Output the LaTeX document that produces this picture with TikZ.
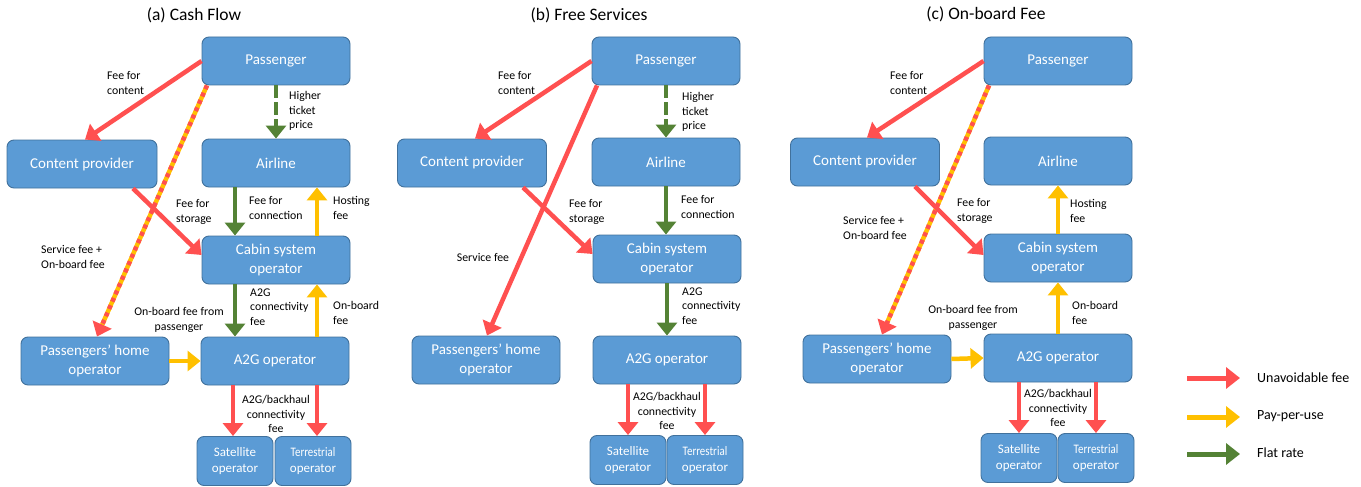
\documentclass[tikz,border=0pt]{standalone}
\usepackage{fontspec}
\usepackage{graphicx}
\setmainfont{Carlito}
\usetikzlibrary{arrows.meta}

\definecolor{boxfill}{HTML}{5B9BD5}
\definecolor{boxline}{HTML}{41719C}
\definecolor{feered}{HTML}{FF5050}
\definecolor{feeyellow}{HTML}{FFC000}
\definecolor{feegreen}{HTML}{548235}

\tikzset{
  party/.style={draw=boxline, line width=0.9pt, fill=boxfill, rounded corners=7pt,
    text=white, minimum width=148pt, minimum height=48pt, inner sep=0pt,
    align=center, font=\fontsize{15}{18.3}\selectfont},
  smallparty/.style={party, minimum width=76pt, minimum height=49pt,
    font=\fontsize{13}{16.5}\selectfont},
  lbl/.style={inner sep=0pt, align=left, font=\fontsize{11.8}{14.5}\selectfont},
  paneltitle/.style={inner sep=0pt, font=\fontsize{17.5}{20}\selectfont},
  legendtext/.style={inner sep=0pt, anchor=west, font=\fontsize{14}{16}\selectfont},
  flow/.style={line width=4.5pt, -{Triangle[length=13pt,width=20pt]}},
  unavoidable/.style={flow, draw=feered},
  payuse/.style={flow, draw=feeyellow},
  flat/.style={flow, draw=feegreen},
  flatdashed/.style={flat, dash pattern=on 13pt off 4pt},
  mixedbase/.style={line width=4.5pt, draw=feeyellow, shorten >=12pt},
  mixedtop/.style={unavoidable, dash pattern=on 4pt off 4pt},
  legendflow/.style={line width=5pt, -{Triangle[length=14pt,width=21pt]}},
}

\begin{document}
\begin{tikzpicture}[x=1pt, y=-1pt]
\useasboundingbox (0,0) rectangle (1361,487);

% ---------------- (a) Cash Flow ----------------
\node[paneltitle] (titleA) at (194,15) {(a) Cash Flow};
\node[party] (pasA) at (276,61) {Passenger};
\node[party] (airA) at (276,163) {Airline};
\node[party, minimum width=150pt] (cpA) at (82,164) {Content provider};
\node[party] (cabA) at (276,260) {Cabin system\\operator};
\node[party] (a2gA) at (275,361) {A2G operator};
\node[party] (homeA) at (95,361) {Passengers’ home\\operator};
\node[smallparty] (satA) at (235,461) {Satellite\\operator};
\node[smallparty] (terA) at (313,461) {\scalebox{0.84}[1]{Terrestrial}\\operator};

\draw[unavoidable] (pasA.west) -- ([xshift=3pt]cpA.north);
\draw[mixedbase] ([xshift=-69pt]pasA.south) -- ([xshift=2pt]homeA.north);
\draw[mixedtop] ([xshift=-69pt]pasA.south) -- ([xshift=2pt]homeA.north);
\draw[flatdashed] (pasA.south) -- (airA.north);
\draw[flat] ([xshift=-41pt]airA.south) -- ([xshift=-41pt]cabA.north);
\draw[payuse] ([xshift=41pt]cabA.north) -- ([xshift=41pt]airA.south);
\draw[unavoidable] ([xshift=51pt]cpA.south) -- ([yshift=5pt]cabA.west);
\draw[flat] ([xshift=-41pt]cabA.south) -- ([xshift=-40pt]a2gA.north);
\draw[payuse] ([xshift=42pt]a2gA.north) -- ([xshift=41pt]cabA.south);
\draw[payuse] (homeA.east) -- (a2gA.west);
\draw[unavoidable] ([xshift=-42pt]a2gA.south) -- ([xshift=-2pt]satA.north);
\draw[unavoidable] ([xshift=42pt]a2gA.south) -- ([xshift=4pt]terA.north);

\node[lbl, anchor=west] (lcontA) at (107,83) {Fee for\\content};
\node[lbl, anchor=west] (lticketA) at (289,111) {Higher\\ticket\\price};
\node[lbl, anchor=west] (lconnA) at (249,208) {Fee for\\connection};
\node[lbl, anchor=west] (lhostA) at (333,208) {Hosting\\fee};
\node[lbl, anchor=west] (lstorA) at (176,212) {Fee for\\storage};
\node[lbl, anchor=west] (lservA) at (41,257) {Service fee +\\On-board fee};
\node[lbl, anchor=west] (la2gA) at (250,307) {A2G\\connectivity\\fee};
\node[lbl, anchor=west] (lobA) at (333,313) {On-board\\fee};
\node[lbl, align=center] (lfromA) at (179,320) {On-board fee from\\passenger};
\node[lbl, align=center] (lbackA) at (276,414) {A2G/backhaul\\connectivity\\fee};

% ---------------- (b) Free Services ----------------
\begin{scope}[xshift=390pt]
\node[paneltitle] (titleB) at (199,15) {(b) Free Services};
\node[party] (pasB) at (276,61) {Passenger};
\node[party] (airB) at (276,162) {Airline};
\node[party, minimum width=149pt] (cpB) at (82,163) {Content provider};
\node[party] (cabB) at (277,259) {Cabin system\\operator};
\node[party] (a2gB) at (277,360) {A2G operator};
\node[party] (homeB) at (96,360) {Passengers’ home\\operator};
\node[smallparty] (satB) at (238,460) {Satellite\\operator};
\node[smallparty] (terB) at (315,460) {\scalebox{0.84}[1]{Terrestrial}\\operator};

\draw[unavoidable] (pasB.west) -- ([xshift=3pt]cpB.north);
\draw[unavoidable] ([xshift=-69pt]pasB.south) -- ([xshift=1pt]homeB.north);
\draw[flatdashed] (pasB.south) -- (airB.north);
\draw[flat] (airB.south) -- (airB.south |- cabB.north);
\draw[unavoidable] ([xshift=51pt]cpB.south) -- ([yshift=5pt]cabB.west);
\draw[flat] (cabB.south) -- (a2gB.north);
\draw[unavoidable] ([xshift=-39pt]a2gB.south) -- (satB.north);
\draw[unavoidable] ([xshift=38pt]a2gB.south) -- (terB.north);

\node[lbl, anchor=west] (lcontB) at (108,83) {Fee for\\content};
\node[lbl, anchor=west] (lticketB) at (292,112) {Higher\\ticket\\price};
\node[lbl, anchor=west] (lconnB) at (291,207) {Fee for\\connection};
\node[lbl, anchor=west] (lstorB) at (179,212) {Fee for\\storage};
\node[lbl] (lservB) at (93,257) {Service fee};
\node[lbl, anchor=west] (la2gB) at (292,306) {A2G\\connectivity\\fee};
\node[lbl, align=center] (lbackB) at (277,411) {A2G/backhaul\\connectivity\\fee};
\end{scope}

% ---------------- (c) On-board Fee ----------------
\begin{scope}[xshift=782pt]
\node[paneltitle] (titleC) at (204,14) {(c) On-board Fee};
\node[party] (pasC) at (276,61) {Passenger};
\node[party] (airC) at (276,161) {Airline};
\node[party, minimum width=149pt] (cpC) at (83,162) {Content provider};
\node[party] (cabC) at (276,258) {Cabin system\\operator};
\node[party] (a2gC) at (276,358) {A2G operator};
\node[party] (homeC) at (95,359) {Passengers’ home\\operator};
\node[smallparty] (satC) at (237,458) {Satellite\\operator};
\node[smallparty] (terC) at (314,458) {\scalebox{0.84}[1]{Terrestrial}\\operator};

\draw[unavoidable] (pasC.west) -- ([xshift=2pt]cpC.north);
\draw[mixedbase] ([xshift=-69pt]pasC.south) -- ([xshift=5pt]homeC.north);
\draw[mixedtop] ([xshift=-69pt]pasC.south) -- ([xshift=5pt]homeC.north);
\draw[payuse] (cabC.north) -- (airC.south);
\draw[unavoidable] ([xshift=50pt]cpC.south) -- ([yshift=3pt]cabC.west);
\draw[payuse] (a2gC.north) -- (cabC.south);
\draw[payuse] (homeC.east) -- (a2gC.west);
\draw[unavoidable] ([xshift=-39pt]a2gC.south) -- (satC.north);
\draw[unavoidable] ([xshift=38pt]a2gC.south) -- (terC.north);

\node[lbl, anchor=west] (lcontC) at (108,83) {Fee for\\content};
\node[lbl, anchor=west] (lservC) at (61,228) {Service fee +\\On-board fee};
\node[lbl, anchor=west] (lstorC) at (175,211) {Fee for\\storage};
\node[lbl, anchor=west] (lhostC) at (288,211) {Hosting\\fee};
\node[lbl, anchor=west] (lobC) at (290,313) {On-board\\fee};
\node[lbl, align=center] (lfromC) at (191,318) {On-board fee from\\passenger};
\node[lbl, align=center] (lbackC) at (276,408) {A2G/backhaul\\connectivity\\fee};
\end{scope}

% ---------------- legend ----------------
\coordinate (legRedA) at (1187,378);
\coordinate (legRedB) at (1240,378);
\coordinate (legYelA) at (1187,417);
\coordinate (legYelB) at (1240,417);
\coordinate (legGrnA) at (1187,454);
\coordinate (legGrnB) at (1240,454);
\draw[legendflow, draw=feered] (legRedA) -- (legRedB);
\draw[legendflow, draw=feeyellow] (legYelA) -- (legYelB);
\draw[legendflow, draw=feegreen] (legGrnA) -- (legGrnB);
\begin{scope}
  % the legend column is cut off just short of the right edge
  \clip (1250,360) rectangle (1352,470);
  \node[legendtext] (legRedT) at (1257,378) {Unavoidable fee};
  \node[legendtext] (legYelT) at (1257,416) {Pay-per-use};
  \node[legendtext] (legGrnT) at (1257,453) {Flat rate};
\end{scope}
\end{tikzpicture}
\end{document}
